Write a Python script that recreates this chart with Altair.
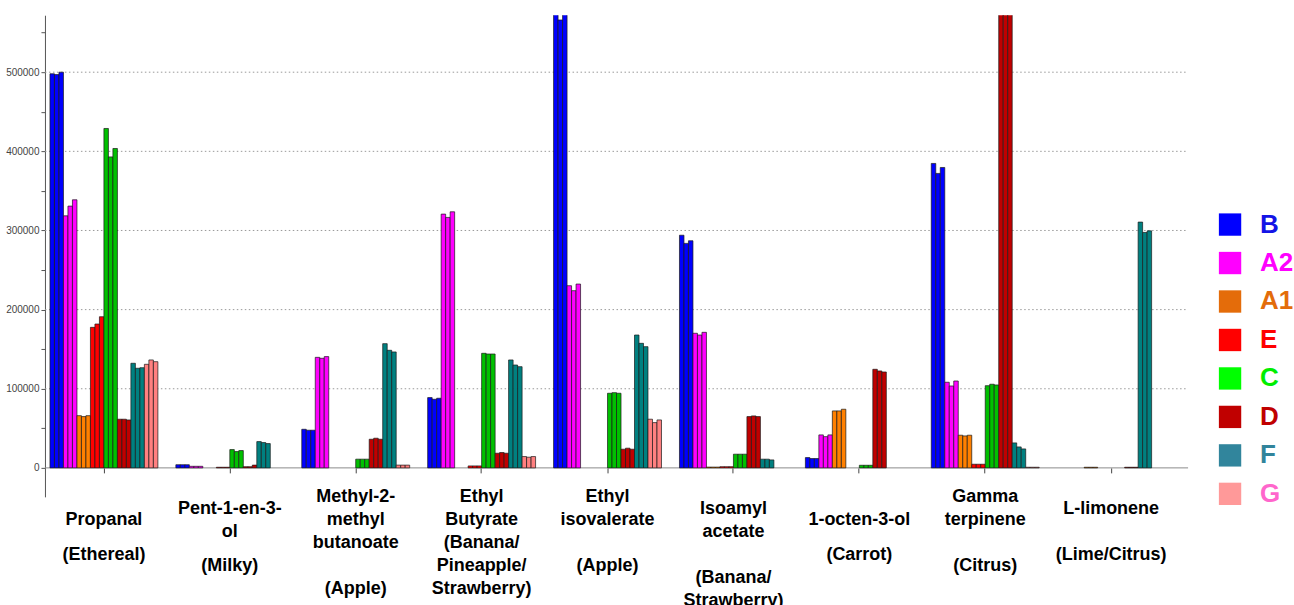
import altair as alt
import pandas as pd

# Category tick labels: text lines and the half-line row each line sits on
label_lines = [
    ["Propanal", "(Ethereal)"],
    ["Pent-1-en-3-", "ol", "(Milky)"],
    ["Methyl-2-", "methyl", "butanoate", "(Apple)"],
    ["Ethyl", "Butyrate", "(Banana/", "Pineapple/", "Strawberry)"],
    ["Ethyl", "isovalerate", "(Apple)"],
    ["Isoamyl", "acetate", "(Banana/", "Strawberry)"],
    ["1-octen-3-ol", "(Carrot)"],
    ["Gamma", "terpinene", "(Citrus)"],
    ["L-limonene", "(Lime/Citrus)"],
]
label_rows = [[2, 5], [1, 3, 6], [0, 2, 4, 8], [0, 2, 4, 6, 8], [0, 2, 6],
              [1, 3, 7, 9], [2, 5], [0, 2, 6], [1, 5]]

BLANK = "\u200b"  # zero-width placeholder so empty lines keep their height
compounds = []
for lines, rws in zip(label_lines, label_rows):
    arr = [BLANK] * (max(rws) + 1)
    for t, r in zip(lines, rws):
        arr[r] = t
    compounds.append("|".join(arr))

series = ["B", "A2", "A1", "E", "C", "D", "F", "G"]

# three replicate values per compound, in compound order
B = [[498000, 497000, 500000], [4000, 4000, 4000], [48800, 47600, 47600],
     [88800, 86700, 88000], [600000, 566000, 600000], [294000, 283700, 287000],
     [13000, 11800, 11800], [384700, 372100, 379600], [0, 0, 0]]
A2 = [[318500, 330800, 338800], [2000, 2000, 2000], [139700, 138500, 140600],
      [320700, 316500, 323600], [230200, 223900, 232300], [170100, 167900, 171300],
      [41700, 39500, 41700], [108200, 103500, 109800], [0, 0, 0]]
A1 = [[66000, 64800, 66000], [0, 0, 0], [0, 0, 0],
      [0, 0, 0], [0, 0, 0], [1000, 1000, 1000],
      [72000, 72000, 74100], [41300, 40400, 41300], [800, 800, 800]]
E = [[177600, 181800, 191000], [800, 800, 800], [0, 0, 0],
     [2500, 2500, 2500], [0, 0, 0], [1500, 1500, 1500],
     [0, 0, 0], [4600, 4600, 4600], [0, 0, 0]]
C = [[428900, 393000, 403600], [23100, 20600, 21900], [11000, 11000, 11000],
     [144800, 143900, 143900], [94300, 95100, 94300], [17300, 17300, 17300],
     [3300, 3300, 3300], [103900, 105700, 104800], [0, 0, 0]]
D = [[61500, 61500, 60600], [1500, 1500, 3500], [36200, 37500, 36200],
     [18500, 19400, 18500], [23600, 24900, 23600], [64800, 65700, 64800],
     [124600, 122500, 121200], [600000, 600000, 600000], [800, 800, 800]]
F = [[132200, 125900, 126600], [33200, 32000, 30700], [157000, 148600, 146500],
     [136400, 130000, 127900], [167900, 157400, 153200], [11000, 11000, 10100],
     [0, 0, 0], [31600, 26500, 24000], [310600, 297500, 299500]]
G = [[130900, 136400, 134200], [0, 0, 0], [3500, 3500, 3500],
     [14300, 13500, 14300], [61500, 57200, 60600], [0, 0, 0],
     [0, 0, 0], [800, 800, 800], [0, 0, 0]]

series_values = [B, A2, A1, E, C, D, F, G]

bar_colors = ["#0000FF", "#FF00FF", "#FF8000", "#FF0000", "#00C000", "#C00000", "#008080", "#FF8080"]
swatch_colors = ["#0000FF", "#FF00FF", "#E46C0A", "#FF0000", "#00FF00", "#C00000", "#31859C", "#FF9999"]
text_colors = ["#1414E6", "#FF00FF", "#E36C0A", "#FF0000", "#00EE00", "#C00000", "#31849B", "#FF66CC"]

grid_values = [100000, 200000, 300000, 400000, 500000]
y_tick_values = list(range(0, 550001, 50000))

rows = []
for ci, comp in enumerate(compounds):
    for si, s in enumerate(series):
        for r in range(3):
            v = series_values[si][ci][r]
            if v > 0:
                rows.append({"compound": comp, "series": s, "slot": si * 3 + r, "value": v})
df = pd.DataFrame(rows)

W, H = 1144, 482
yscale = alt.Scale(domain=[-36600, 572000], nice=False, zero=False)
yaxis = alt.Axis(
    title=None, values=y_tick_values, format="d",
    labelExpr="datum.value % 100000 == 0 ? datum.label : ''",
    grid=False, domainColor="#555", tickColor="#555", tickSize=4,
    labelPadding=2, labelFont="Liberation Sans", labelFontSize=10, labelColor="#444",
)

grid = alt.Chart(pd.DataFrame({"value": grid_values})).mark_rule(
    color="#9a9a9a", strokeDash=[1.5, 2.5], strokeWidth=1
).encode(
    y=alt.Y("value:Q", scale=yscale, axis=yaxis),
    x=alt.value(0), x2=alt.value(W),
)

baseline = alt.Chart(pd.DataFrame({"value": [0]})).mark_rule(
    color="#8c8c8c", strokeWidth=1
).encode(
    y=alt.Y("value:Q", scale=yscale, axis=yaxis),
    x=alt.value(0), x2=alt.value(W),
)

bars = alt.Chart(df).mark_bar(clip=True, stroke="#1a1a1a", strokeWidth=0.7).encode(
    x=alt.X(
        "compound:N", sort=compounds,
        scale=alt.Scale(domain=compounds, range=[5, 1121], paddingInner=18 / 126, paddingOuter=0),
        axis=alt.Axis(
            title=None, domain=False, ticks=True, tickSize=5, tickColor="#444",
            offset=-29, labelExpr="split(datum.label, '|')", labelBaseline="middle",
            labelPadding=24, labelFont="Liberation Sans", labelFontSize=18,
            labelFontWeight="bold", labelColor="black", labelLineHeight=11.5,
            labelAngle=0, labelOverlap=False, labelLimit=0,
        ),
    ),
    xOffset=alt.XOffset("slot:O", scale=alt.Scale(domain=list(range(24)), paddingInner=0, paddingOuter=0)),
    y=alt.Y("value:Q", scale=yscale, axis=yaxis),
    y2=alt.datum(0),
    color=alt.Color("series:N", scale=alt.Scale(domain=series, range=bar_colors), legend=None),
)

main = alt.layer(grid, baseline, bars).properties(width=W, height=H)

leg_df = pd.DataFrame({"series": series})
ly = alt.Y("series:N", sort=series,
           scale=alt.Scale(type="point", domain=series, range=[209.5, 479], padding=0), axis=None)
sq = alt.Chart(leg_df).mark_square(size=500, opacity=1).encode(
    y=ly, x=alt.value(21),
    color=alt.Color("series:N", scale=alt.Scale(domain=series, range=swatch_colors), legend=None),
)
tx = alt.Chart(leg_df).mark_text(
    align="left", baseline="middle", font="Liberation Sans", fontSize=26, fontWeight="bold"
).encode(
    y=ly, x=alt.value(51), text="series:N",
    color=alt.Color("series:N", scale=alt.Scale(domain=series, range=text_colors), legend=None),
)
legend = alt.layer(sq, tx).resolve_scale(color="independent").properties(width=84, height=H)

chart = alt.hconcat(main, legend, spacing=20).properties(
    padding={"left": 5, "top": 15, "right": 0, "bottom": 0}, background="white"
).configure_view(stroke=None)

chart.save("out.html", embed_options={"renderer": "svg", "actions": False})
